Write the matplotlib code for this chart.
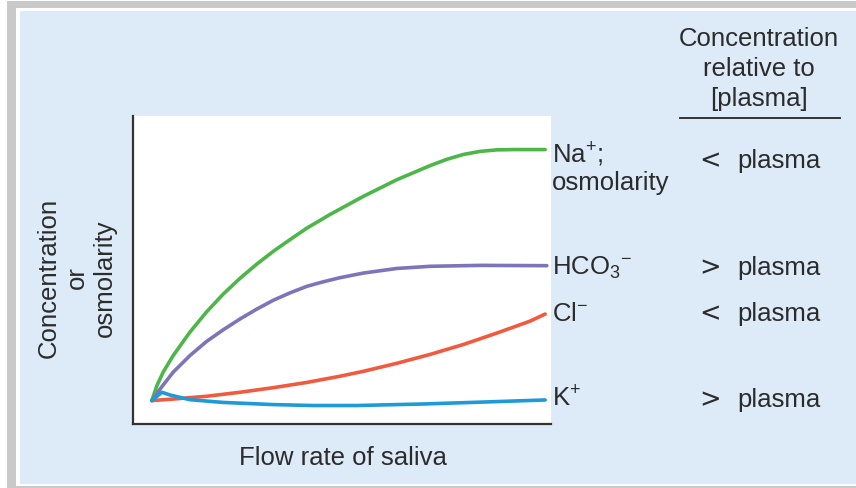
import matplotlib.pyplot as plt
from matplotlib.patches import Rectangle

plt.rcParams['font.family'] = ['Liberation Sans', 'DejaVu Sans']
plt.rcParams['mathtext.fontset'] = 'custom'
plt.rcParams['mathtext.rm'] = 'Liberation Sans'
plt.rcParams['mathtext.it'] = 'Liberation Sans'

W, H = 856, 489

# Values (flow rate and concentration, both on a 0-100 scale).
na_x = [4.5, 5.7, 7.2, 9.6, 13.6, 17.6, 21.6, 25.6, 29.6, 33.6, 37.6, 41.6, 47.1,
        55.1, 63.1, 71.1, 75.0, 79.0, 83.0, 87.0, 91.0, 98.6]
na_y = [7.6, 12.4, 16.8, 22.2, 29.8, 36.4, 42.2, 47.3, 51.9, 56.1, 59.9, 63.6, 68.0,
        73.9, 79.3, 83.9, 85.9, 87.5, 88.5, 89.0, 89.1, 89.1]

hco3_x = [4.5, 6.5, 9.6, 13.6, 17.6, 21.6, 25.6, 29.6, 33.6, 37.6, 41.6, 45.6, 49.5,
          55.1, 63.1, 71.1, 83.0, 99.0]
hco3_y = [7.6, 11.4, 16.8, 22.2, 26.8, 30.6, 34.1, 37.3, 40.2, 42.6, 44.7, 46.2, 47.5,
          49.0, 50.5, 51.2, 51.5, 51.4]

cl_x = [4.5, 9.6, 17.6, 25.6, 33.6, 41.6, 49.5, 55.1, 63.1, 71.1, 79.0, 87.0, 95.0, 98.6]
cl_y = [7.6, 8.1, 9.0, 10.3, 11.8, 13.5, 15.5, 17.1, 19.7, 22.6, 25.8, 29.5, 33.4, 35.7]

k_x = [4.5, 6.9, 8.9, 13.6, 21.6, 33.6, 43.0, 53.5, 69.5, 85.4, 98.6]
k_y = [7.6, 10.3, 9.4, 7.9, 7.0, 6.3, 6.0, 6.0, 6.5, 7.2, 7.8]

series_labels = ['Na$^{+}$;', 'HCO$_3{}^{-}$', 'Cl$^{-}$', 'K$^{+}$']
signs = ['<', '>', '<', '>']
colors = ['#4cb748', '#7d75b9', '#f15a3e', '#1e9ad7']


def fx(px):
    return px / W


def fy(py):
    return 1 - py / H


fig = plt.figure(figsize=(W / 100, H / 100), dpi=100, facecolor='white')

# Panel with a soft gray frame on top/left.
fig.patches.append(Rectangle((fx(7), fy(489)), 1, fy(2) - fy(489), transform=fig.transFigure,
                             facecolor='#c9c9c9', edgecolor='none', zorder=-3))
fig.patches.append(Rectangle((fx(16), fy(487)), 1, fy(9) - fy(487), transform=fig.transFigure,
                             facecolor='white', edgecolor='none', zorder=-2))
fig.patches.append(Rectangle((fx(20), fy(485)), 1, fy(12) - fy(485), transform=fig.transFigure,
                             facecolor='#ddeaf7', edgecolor='none', zorder=-1))

ax = fig.add_axes([fx(133), fy(425), fx(551) - fx(133), fy(117) - fy(425)])
ax.set_facecolor('white')
for xs, ys, c in zip([na_x, hco3_x, cl_x, k_x], [na_y, hco3_y, cl_y, k_y], colors):
    ax.plot(xs, ys, color=c, lw=2.6, solid_joinstyle='round', solid_capstyle='round')
ax.set_xlim(0, 100)
ax.set_ylim(0, 100)
ax.set_xticks([])
ax.set_yticks([])
ax.spines['top'].set_visible(False)
ax.spines['right'].set_visible(False)
for s in ['left', 'bottom']:
    ax.spines[s].set_color('#333333')
    ax.spines[s].set_linewidth(1.6)

txt = '#2b2b2b'
fs = 18.5
fig.text(fx(343), fy(458), 'Flow rate of saliva', ha='center', va='center', fontsize=fs, color=txt)
fig.text(fx(77), fy(278), 'Concentration\nor\nosmolarity', ha='center', va='center',
         rotation=90, fontsize=fs, color=txt, linespacing=1.22)

# Header of the right column.
for line, base in zip(['Concentration', 'relative to', '[plasma]'], [46, 76, 106]):
    fig.text(fx(759), fy(base), line, ha='center', va='baseline', fontsize=fs, color=txt)
fig.add_artist(plt.Line2D([fx(680), fx(840)], [fy(119), fy(119)], color='#333333', lw=1.4))

label_base = [163, 275, 321, 407]
row_base = [168, 275, 321, 407]
for lab, sign, lb, rb in zip(series_labels, signs, label_base, row_base):
    fig.text(fx(552), fy(lb), lab, ha='left', va='baseline', fontsize=fs, color=txt)
    fig.text(fx(699), fy(rb), sign, ha='left', va='baseline', fontsize=fs,
             color=txt, family='DejaVu Sans')
    fig.text(fx(737), fy(rb), 'plasma', ha='left', va='baseline', fontsize=fs, color=txt)
fig.text(fx(552), fy(190), 'osmolarity', ha='left', va='baseline', fontsize=fs, color=txt)

fig.savefig('out.png', dpi=100, facecolor='white')
plt.close()
